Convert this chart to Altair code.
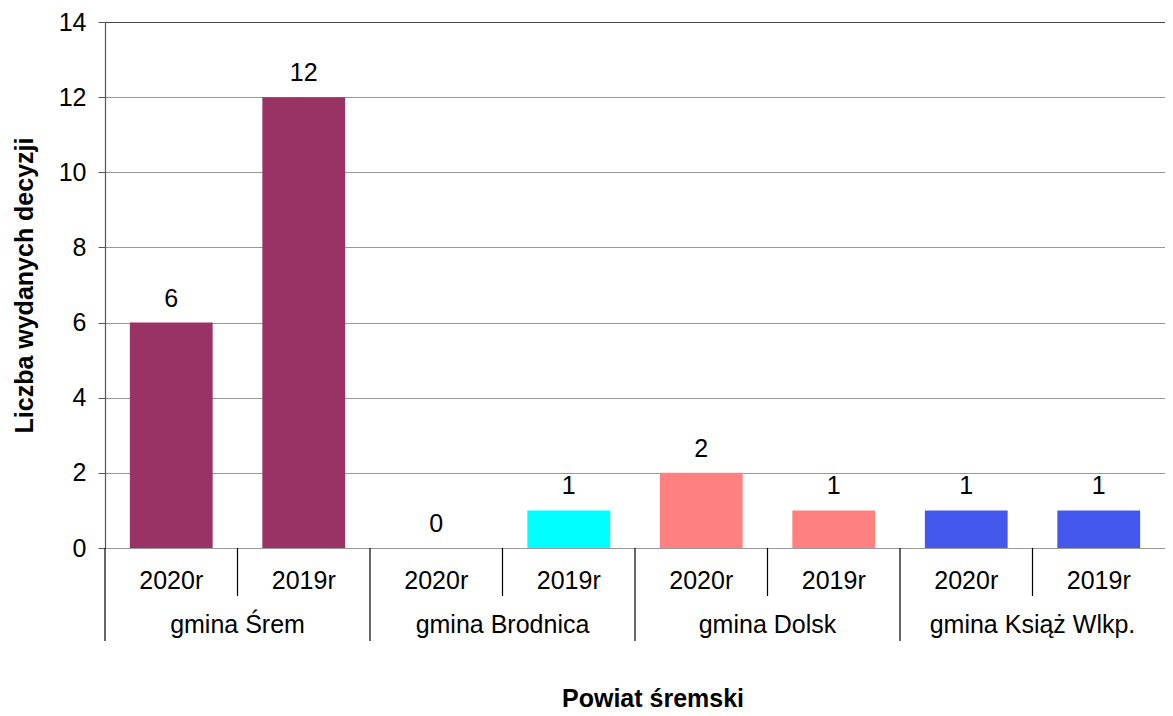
import altair as alt
import pandas as pd

gminy = ["gmina Śrem", "gmina Brodnica", "gmina Dolsk", "gmina Książ Wlkp."]
years = ["2020r", "2019r"]
values = [6, 12, 0, 1, 2, 1, 1, 1]
colors = ["#993366", "#00FFFF", "#FF8080", "#4458EE"]
y_ticks = [0, 2, 4, 6, 8, 10, 12, 14]
x_title = "Powiat śremski"
y_title = "Liczba wydanych decyzji"

rows = []
i = 0
for g in gminy:
    for yr in years:
        rows.append({"key": g + "|" + yr, "gmina": g, "year": yr, "value": values[i]})
        i += 1
df = pd.DataFrame(rows)
keys = list(df["key"])
first_keys = pd.DataFrame({"key": [g + "|" + years[0] for g in gminy], "gmina": gminy})
second_keys = pd.DataFrame({"key": [g + "|" + years[1] for g in gminy]})

W, H = 1060, 526
FONT = "Liberation Sans"
FS = 25
xscale = alt.Scale(domain=keys, paddingInner=0, paddingOuter=0)

bars = alt.Chart(df).mark_bar(width=alt.RelativeBandSize(0.625)).encode(
    x=alt.X("key:N", scale=xscale, axis=alt.Axis(
        labels=False, ticks=False, domain=True, domainColor="#555555", domainWidth=1.2,
        grid=False, title=None)),
    y=alt.Y("value:Q", scale=alt.Scale(domain=[0, 14], nice=False), axis=alt.Axis(
        values=y_ticks, title=y_title, titleFontSize=FS, titleFont=FONT,
        titleFontWeight="bold", titleColor="black", titlePadding=21,
        labelFontSize=FS, labelFont=FONT, labelColor="black", labelPadding=12,
        tickSize=7, tickColor="#555555", domainColor="#555555", domainWidth=1.2,
        gridColor={"condition": {"test": "datum.value === 14", "value": "#444444"}, "value": "#999999"},
        gridWidth=1)),
    color=alt.Color("gmina:N", scale=alt.Scale(domain=gminy, range=colors), legend=None),
)

vlabels = alt.Chart(df).mark_text(baseline="alphabetic", dy=-16, fontSize=FS, font=FONT, color="black").encode(
    x=alt.X("key:N", scale=xscale, axis=None),
    y=alt.Y("value:Q"),
    text=alt.Text("value:Q"),
)

year_text = alt.Chart(df).mark_text(baseline="alphabetic", fontSize=FS, font=FONT, color="black").encode(
    x=alt.X("key:N", scale=xscale, axis=None),
    y=alt.value(H + 41),
    text="year:N",
)

gmina_text = alt.Chart(first_keys).mark_text(baseline="alphabetic", fontSize=FS, font=FONT, color="black").encode(
    x=alt.X("key:N", scale=xscale, axis=None, bandPosition=1),
    y=alt.value(H + 85),
    text="gmina:N",
)

minor_sep = alt.Chart(second_keys).mark_rule(color="black", strokeWidth=1.2).encode(
    x=alt.X("key:N", scale=xscale, axis=None, bandPosition=0),
    y=alt.value(H),
    y2=alt.value(H + 48),
)

major_sep = alt.Chart(first_keys).mark_rule(color="black", strokeWidth=1.2).encode(
    x=alt.X("key:N", scale=xscale, axis=None, bandPosition=0),
    y=alt.value(H),
    y2=alt.value(H + 93),
)

xtitle = alt.Chart(pd.DataFrame({"t": [x_title]})).mark_text(
    baseline="alphabetic", align="center", fontSize=FS, font=FONT, fontWeight="bold", color="black"
).encode(
    x=alt.value(548),
    y=alt.value(H + 159),
    text="t:N",
)

chart = alt.layer(bars, vlabels, minor_sep, major_sep, year_text, gmina_text, xtitle).properties(
    width=W, height=H,
    padding={"left": 4, "top": 2, "right": 0, "bottom": 0},
).configure_view(stroke=None)

chart.save("out.html", embed_options={"renderer": "svg", "actions": False})
